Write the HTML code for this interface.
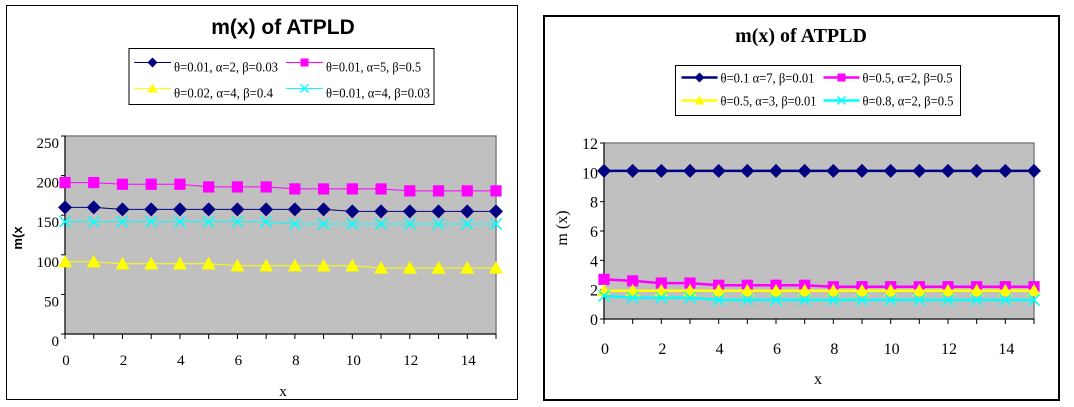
<!DOCTYPE html>
<html><head><meta charset="utf-8"><style>
body{margin:0;background:#fff;width:1074px;height:407px;overflow:hidden}
svg{display:block}
text{font-family:"Liberation Serif",serif}
</style></head><body>
<svg id="s" width="1074" height="407">
<rect x="6.5" y="5.5" width="511" height="394" fill="#fff" stroke="#000"/>
<rect x="544" y="16" width="515" height="384" fill="#fff" stroke="#000" stroke-width="2"/>
<text x="283" y="34" text-anchor="middle" font-size="21" font-weight="bold" style="font-family:'Liberation Sans',sans-serif">m(x) of ATPLD</text>
<text x="801" y="42" text-anchor="middle" font-size="20" font-weight="bold" style="font-family:'Liberation Serif',serif">m(x) of ATPLD</text>
<text x="22" y="238" text-anchor="middle" font-size="13" font-weight="bold" transform="rotate(-90 22 238)" style="font-family:'Liberation Sans',sans-serif">m(x</text>
<text x="283" y="396" text-anchor="middle" font-size="15">x</text>
<text x="567" y="228" text-anchor="middle" font-size="16" transform="rotate(-90 567 228)">m (x)</text>
<text x="818" y="384" text-anchor="middle" font-size="16">x</text>
</svg>
<script>
const xs=[0,1,2,3,4,5,6,7,8,9,10,11,12,13,14,15];
const xTicks=[0,2,4,6,8,10,12,14];
const L_navy=[159.9,159.9,157.3,157.3,157.3,157.3,157.3,157.3,157.3,157.3,154.8,154.8,154.8,154.8,154.8,154.8];
const L_mag=[191.2,191.2,189.1,189.1,189.1,185.7,185.7,185.7,183.2,183.2,183.2,183.2,180.7,180.7,180.7,180.7];
const L_yel=[91.2,91.2,88.7,88.7,88.7,88.7,86.2,86.2,86.2,86.2,86.2,83.3,83.3,83.3,83.3,83.3];
const L_cyan=[141.8,141.8,141.8,141.8,141.8,141.8,141.8,141.8,138.9,138.9,138.9,138.9,138.9,138.9,138.9,138.9];
const L_yTicks=[0,50,100,150,200,250];
const L_labels=["θ=0.01, α=2, β=0.03","θ=0.01, α=5, β=0.5","θ=0.02, α=4, β=0.4","θ=0.01, α=4, β=0.03"];
const R_navy=[10.1,10.1,10.1,10.1,10.1,10.1,10.1,10.1,10.1,10.1,10.1,10.1,10.1,10.1,10.1,10.1];
const R_mag=[2.7,2.6,2.45,2.45,2.3,2.3,2.3,2.3,2.2,2.2,2.2,2.2,2.2,2.2,2.2,2.2];
const R_yel=[1.93,1.93,1.93,1.93,1.93,1.93,1.93,1.93,1.93,1.93,1.93,1.93,1.93,1.93,1.93,1.93];
const R_cyan=[1.58,1.45,1.45,1.45,1.3,1.3,1.3,1.3,1.3,1.3,1.3,1.3,1.3,1.3,1.3,1.3];
const R_yTicks=[0,2,4,6,8,10,12];
const R_labels=["θ=0.1 α=7, β=0.01","θ=0.5, α=2, β=0.5","θ=0.5, α=3, β=0.01","θ=0.8, α=2, β=0.5"];
const colors=["#000080","#ff00ff","#ffff00","#00ffff"];
const markers=["diamond","square","triangle","x"];
const NS="http://www.w3.org/2000/svg";
const svg=document.getElementById('s');
function mk(t,a,p){const e=document.createElementNS(NS,t);for(const k in a)e.setAttribute(k,a[k]);(p||svg).appendChild(e);return e;}
function marker(g,type,x,y,c,s){
 if(type==="diamond")return mk('polygon',{points:`${x},${y-s} ${x+s},${y} ${x},${y+s} ${x-s},${y}`,fill:c},g);
 if(type==="square")return mk('rect',{x:x-s*0.8,y:y-s*0.8,width:s*1.6,height:s*1.6,fill:c},g);
 if(type==="triangle")return mk('polygon',{points:`${x},${y-s} ${x+s},${y+s*0.8} ${x-s},${y+s*0.8}`,fill:c},g);
 return mk('path',{d:`M${x-s*0.8},${y-s*0.8}L${x+s*0.8},${y+s*0.8}M${x+s*0.8},${y-s*0.8}L${x-s*0.8},${y+s*0.8}`,stroke:c,'stroke-width':1.5,fill:'none'},g);
}
function chart(cfg){
 const {x0,x1,y0,y1,ymax,yTicks,series,labels,lw,pref,leg,ms}=cfg;
 const X=v=>x0+(v-xs[0])/(xs[xs.length-1]-xs[0])*(x1-x0);
 const Y=v=>y1-v/ymax*(y1-y0);
 const pa=mk('rect',{x:x0,y:y0,width:x1-x0,height:y1-y0,fill:'#c0c0c0',stroke:'#808080','stroke-width':1.5});
 
 
 mk('line',{x1:x0,y1:y0,x2:x0,y2:y1+4,stroke:'#000'});
 mk('line',{x1:x0-4,y1:y1,x2:x1,y2:y1,stroke:'#000'});
 yTicks.forEach(v=>{mk('line',{x1:x0-4,y1:Y(v),x2:x0,y2:Y(v),stroke:'#000'});
  const t=mk('text',{x:x0-6,y:Y(v)+cfg.yOff,'text-anchor':'end','font-size':cfg.fs});t.textContent=v;
  
  });
 xs.forEach(v=>mk('line',{x1:X(v),y1:y1,x2:X(v),y2:y1+5,stroke:'#000'}));
 xTicks.forEach(v=>{const t=mk('text',{x:X(v)+1,y:y1+cfg.xOff,'text-anchor':'middle','font-size':cfg.fs});t.textContent=v;
  
  });
 series.forEach((d,i)=>{
  const g=mk('g',{});
  
  
  mk('polyline',{points:d.map((v,j)=>X(xs[j])+','+Y(v)).join(' '),fill:'none',stroke:colors[i],'stroke-width':lw},g);
  d.forEach((v,j)=>marker(g,markers[i],X(xs[j]),Y(v),colors[i],ms));
 });
 const lg=mk('g',{});
 
 
 mk('rect',{x:leg.x,y:leg.y,width:leg.w,height:leg.h,fill:'#fff',stroke:'#000'},lg);
 labels.forEach((l,i)=>{
  const cx=leg.x+leg.pad+(i%2)*leg.colW, cy=leg.y+leg.rowY[Math.floor(i/2)];
  const e=mk('g',{},lg);
  
  
  mk('line',{x1:cx,y1:cy,x2:cx+leg.lineW,y2:cy,stroke:colors[i],'stroke-width':lw},e);
  marker(e,markers[i],cx+leg.lineW/2,cy,colors[i],leg.ms);
  const t=mk('text',{x:cx+leg.lineW+3,y:cy+leg.tdy,'font-size':leg.fs,textLength:leg.tl[i],lengthAdjust:'spacingAndGlyphs'},e);t.textContent=l;
 });
}
chart({x0:65,x1:496,y0:136,y1:334,ymax:250,yTicks:L_yTicks,series:[L_navy,L_mag,L_yel,L_cyan],labels:L_labels,lw:1,pref:'left',fs:15,yOff:12,xOff:31,ms:7,
 leg:{x:129,y:48.5,w:305,h:56,pad:5,colW:152,rowY:[14,40],lineW:37,ms:5,fs:14,tdy:9,tl:[104,95,99,104]}});
chart({x0:604,x1:1034,y0:143,y1:319,ymax:12,yTicks:R_yTicks,series:[R_navy,R_mag,R_yel,R_cyan],labels:R_labels,lw:2.5,pref:'right',fs:16,yOff:6,xOff:35,ms:7,
 leg:{x:675.5,y:65.5,w:285,h:50,pad:6,colW:142,rowY:[12,35],lineW:36,ms:5,fs:14,tdy:5,tl:[94,90,96,91]}});
</script>
</body></html>
